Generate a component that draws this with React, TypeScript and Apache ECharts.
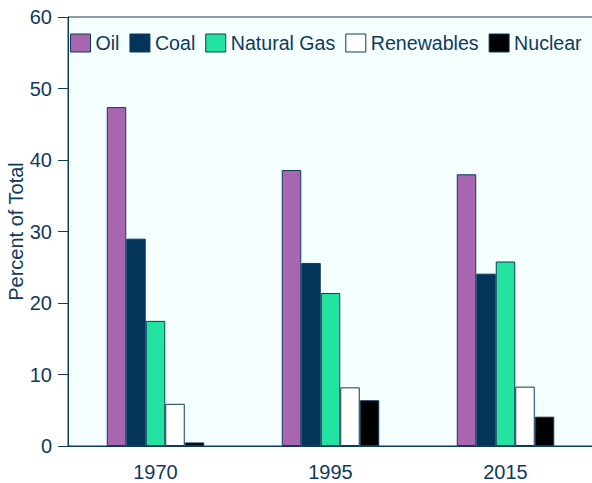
import React, { useEffect, useRef } from "react";
import * as echarts from "echarts";

const categories = ["1970", "1995", "2015"];
const oil = [47.4, 38.6, 38.0];
const coal = [29.0, 25.6, 24.1];
const naturalGas = [17.5, 21.4, 25.8];
const renewables = [5.9, 8.2, 8.3];
const nuclear = [0.5, 6.4, 4.1];

const textColor = "#0f3a5c";
const edge = "#0f3a5c";

export default function App() {
  const ref = useRef<HTMLDivElement>(null);
  useEffect(() => {
    const chart = echarts.init(ref.current!, null, { renderer: "svg" });
    const mk = (name: string, data: number[], color: string) => ({
      name,
      type: "bar",
      data,
      barWidth: 19.5,
      barGap: "0%",
      itemStyle: { color, borderColor: edge, borderWidth: 1 },
    });
    chart.setOption({
      animation: false,
      textStyle: { fontFamily: "Liberation Sans, Arial, sans-serif" },
      grid: {
        left: 68,
        right: -1,
        top: 17,
        bottom: 37,
        show: true,
        outerBoundsMode: "none",
        containLabel: false,
        backgroundColor: "#f5fefe",
        borderColor: edge,
        borderWidth: 1,
      },
      legend: {
        left: 70,
        top: 33,
        width: 580,
        padding: 0,
        itemWidth: 20,
        itemHeight: 18,
        itemGap: 10,
        icon: "rect",
        textStyle: { fontSize: 19.6, color: textColor },
        data: ["Oil", "Coal", "Natural Gas", "Renewables", "Nuclear"],
        itemStyle: { borderColor: edge, borderWidth: 1 },
      },
      xAxis: {
        type: "category",
        data: categories,
        axisLine: { lineStyle: { color: edge, width: 1 } },
        axisTick: { alignWithLabel: true, length: 6, lineStyle: { color: edge } },
        axisLabel: { color: textColor, fontSize: 20, margin: 16 },
      },
      yAxis: {
        type: "value",
        min: 0,
        max: 60,
        interval: 10,
        name: "Percent of Total",
        nameLocation: "middle",
        nameMoveOverlap: false,
        nameGap: 42,
        nameTextStyle: { color: textColor, fontSize: 20 },
        axisLine: { show: true, lineStyle: { color: edge, width: 1 } },
        axisTick: { show: true, length: 10, lineStyle: { color: edge } },
        axisLabel: { color: textColor, fontSize: 20, margin: 16 },
        splitLine: { show: false },
      },
      series: [
        mk("Oil", oil, "#a865b0"),
        mk("Coal", coal, "#03355a"),
        mk("Natural Gas", naturalGas, "#22e3a0"),
        mk("Renewables", renewables, "#ffffff"),
        mk("Nuclear", nuclear, "#000000"),
      ],
    });
    return () => chart.dispose();
  }, []);
  return <div ref={ref} style={{ width: 592, height: 483, position: "absolute", left: 0, top: 0 }} />;
}
